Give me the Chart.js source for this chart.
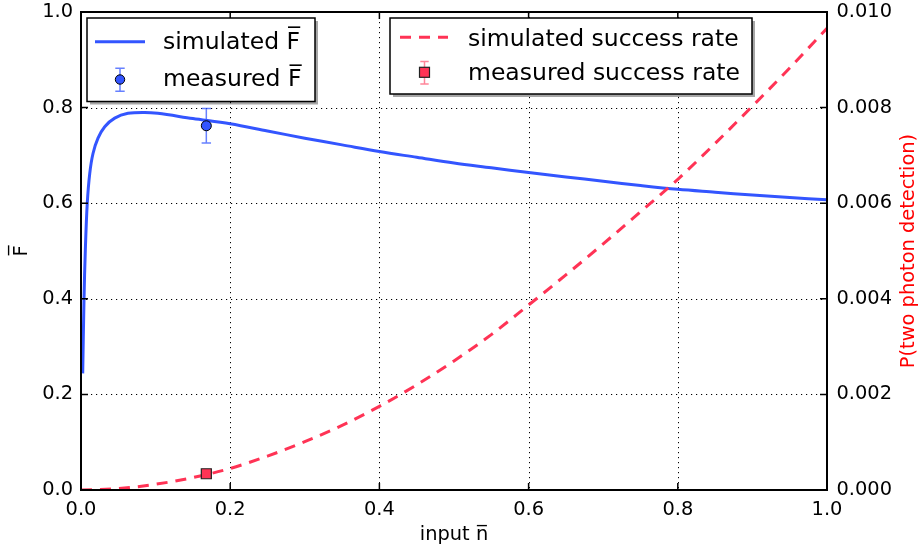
<!DOCTYPE html>
<html>
<head>
<meta charset="utf-8">
<script src="https://cdn.jsdelivr.net/npm/chart.js@4/dist/chart.umd.min.js"></script>
<style>
  html, body { margin: 0; padding: 0; background: #fff; }
  #wrap { width: 918px; height: 554px; }
</style>
</head>
<body>
<div id="wrap"><canvas id="chart" width="918" height="554"></canvas></div>
<script>
// Simulated mean fidelity vs. input mean photon number
const fidelityN = [0.0023, 0.004, 0.0058, 0.0084, 0.0117, 0.0161, 0.0228, 0.0318, 0.0452, 0.063,
                   0.0854, 0.103, 0.15, 0.2, 0.25, 0.3, 0.35, 0.4, 0.45, 0.5,
                   0.55, 0.6, 0.65, 0.7, 0.75, 0.8, 0.85, 0.9, 0.95, 1.0];
const fidelitySim = [0.244, 0.397, 0.502, 0.600, 0.662, 0.704, 0.736, 0.760, 0.778, 0.788,
                     0.790, 0.788, 0.777, 0.766, 0.751, 0.736, 0.722, 0.708, 0.696, 0.684,
                     0.674, 0.664, 0.655, 0.646, 0.637, 0.629, 0.623, 0.617, 0.612, 0.607];

// Simulated two-photon detection probability
const successN = [0, 0.05, 0.1, 0.15, 0.2, 0.25, 0.3, 0.35, 0.4, 0.45, 0.5,
                  0.55, 0.6, 0.65, 0.7, 0.75, 0.8, 0.85, 0.9, 0.95, 1.0];
const successSim = [0, 0.00003, 0.00012, 0.00026, 0.00045, 0.00071, 0.00101, 0.00135, 0.00175, 0.00220, 0.00270,
                    0.00325, 0.00387, 0.00450, 0.00515, 0.00582, 0.00650, 0.00725, 0.00803, 0.00883, 0.00966];

// Measurement
const measuredN = [0.168];
const measuredF = [0.762];
const measuredFErr = [0.036];
const measuredP = [0.00034];
const measuredPErr = [0.00002];

// Axis ticks
const xTicks = [0, 0.2, 0.4, 0.6, 0.8, 1.0];
const fTicks = [0, 0.2, 0.4, 0.6, 0.8, 1.0];
const pTicks = [0, 0.002, 0.004, 0.006, 0.008, 0.010];

const P_AXIS_TITLE = 'P(two photon detection)';

const BLUE = '#3355ff';
const RED = '#ff3355';
const TICK_FONT = 19.4;
const LEGEND_FONT = 23.5;
const FONT = "'DejaVu Sans', sans-serif";

Chart.defaults.font.family = FONT;
Chart.defaults.color = '#000';

function pairs(xs, ys) { return xs.map((x, i) => ({ x: x, y: ys[i] })); }

function straightLine(ctx, x1, y1, x2, y2) {
  ctx.beginPath();
  ctx.moveTo(x1, y1);
  ctx.lineTo(x2, y2);
  ctx.stroke();
}

function errorBar(ctx, x, yTop, yBot, half, color) {
  ctx.save();
  ctx.strokeStyle = color;
  ctx.lineWidth = 1.5;
  ctx.beginPath();
  ctx.moveTo(x, yTop); ctx.lineTo(x, yBot);
  ctx.moveTo(x - half, yTop); ctx.lineTo(x + half, yTop);
  ctx.moveTo(x - half, yBot); ctx.lineTo(x + half, yBot);
  ctx.stroke();
  ctx.restore();
}

function legendFrame(ctx, x, y, w, h) {
  ctx.save();
  ctx.fillStyle = 'rgba(0,0,0,0.35)';
  ctx.fillRect(x + 3, y + 3, w, h);
  ctx.fillStyle = '#fff';
  ctx.fillRect(x, y, w, h);
  ctx.strokeStyle = '#000';
  ctx.lineWidth = 1.5;
  ctx.strokeRect(x, y, w, h);
  ctx.restore();
}

// fixed plot box: scale sizes set explicitly, label overhang ignored
function fixWidth(w) {
  return s => { s.width = w; s.paddingTop = 0; s.paddingBottom = 0; };
}
function fixHeight(h) {
  return s => { s.height = h; s.paddingLeft = 0; s.paddingRight = 0; };
}

const decorations = {
  id: 'decorations',
  beforeDatasetsDraw(chart) {
    const { ctx, chartArea: a, scales } = chart;
    ctx.save();
    ctx.strokeStyle = '#000';
    ctx.lineWidth = 1;
    ctx.setLineDash([1.2, 3.8]);
    xTicks.slice(1, -1).forEach(v => {
      const px = Math.round(scales.x.getPixelForValue(v)) + 0.5;
      straightLine(ctx, px, a.top, px, a.bottom);
    });
    fTicks.slice(1, -1).forEach(v => {
      const py = Math.round(scales.y.getPixelForValue(v)) + 0.5;
      straightLine(ctx, a.left, py, a.right, py);
    });
    ctx.restore();
  },
  beforeDatasetDraw(chart, args) {
    const ds = chart.data.datasets[args.index];
    if (!ds.errors) return;
    const { ctx } = chart;
    const xs = chart.scales.x;
    const ys = chart.scales[ds.yAxisID];
    ds.data.forEach((p, i) => {
      const px = xs.getPixelForValue(p.x);
      errorBar(ctx, px, ys.getPixelForValue(p.y + ds.errors[i]),
               ys.getPixelForValue(p.y - ds.errors[i]), 4.7, ds.errorColor);
    });
  },
  afterDraw(chart) {
    const { ctx, chartArea: a, scales } = chart;
    ctx.save();
    // inward tick marks on all four sides
    ctx.strokeStyle = '#000';
    ctx.lineWidth = 1.5;
    ctx.beginPath();
    const len = 7;
    xTicks.forEach(v => {
      const px = scales.x.getPixelForValue(v);
      ctx.moveTo(px, a.bottom); ctx.lineTo(px, a.bottom - len);
      ctx.moveTo(px, a.top); ctx.lineTo(px, a.top + len);
    });
    fTicks.forEach(v => {
      const py = scales.y.getPixelForValue(v);
      ctx.moveTo(a.left, py); ctx.lineTo(a.left + len, py);
    });
    pTicks.forEach(v => {
      const py = scales.y2.getPixelForValue(v);
      ctx.moveTo(a.right, py); ctx.lineTo(a.right - len, py);
    });
    ctx.stroke();
    // axes frame
    ctx.lineWidth = 2;
    ctx.strokeRect(a.left, a.top, a.right - a.left, a.bottom - a.top);

    // right axis title, reading bottom to top
    ctx.save();
    ctx.translate(913.5, (a.top + a.bottom) / 2);
    ctx.rotate(-Math.PI / 2);
    ctx.font = TICK_FONT + 'px ' + FONT;
    ctx.textAlign = 'center';
    ctx.textBaseline = 'alphabetic';
    ctx.fillStyle = '#ff0000';
    ctx.fillText(P_AXIS_TITLE, 0, 0);
    ctx.restore();

    // legends
    ctx.font = LEGEND_FONT + 'px ' + FONT;
    ctx.textBaseline = 'alphabetic';
    ctx.fillStyle = '#000';

    legendFrame(ctx, 87, 18, 228, 83.5);
    ctx.strokeStyle = BLUE;
    ctx.lineWidth = 3;
    ctx.beginPath(); ctx.moveTo(95, 41.7); ctx.lineTo(145, 41.7); ctx.stroke();
    ctx.fillStyle = '#000';
    ctx.fillText('simulated F\u0305', 163, 48.5);
    errorBar(ctx, 120, 68.3, 91.3, 4.7, 'rgba(51,85,255,0.75)');
    ctx.beginPath(); ctx.arc(120, 79.5, 4.7, 0, Math.PI * 2);
    ctx.fillStyle = BLUE; ctx.fill();
    ctx.strokeStyle = '#000'; ctx.lineWidth = 1; ctx.stroke();
    ctx.fillStyle = '#000';
    ctx.fillText('measured F\u0305', 163, 86);

    legendFrame(ctx, 390, 18, 362, 76);
    ctx.strokeStyle = RED;
    ctx.lineWidth = 3;
    ctx.setLineDash([11, 8]);
    ctx.beginPath(); ctx.moveTo(400, 37.3); ctx.lineTo(448, 37.3); ctx.stroke();
    ctx.setLineDash([]);
    ctx.fillStyle = '#000';
    ctx.fillText('simulated success rate', 468, 45.7);
    errorBar(ctx, 424.5, 61.5, 84, 4.2, 'rgba(255,51,85,0.6)');
    ctx.fillStyle = RED;
    ctx.fillRect(419.5, 67.3, 10, 10);
    ctx.strokeStyle = '#222'; ctx.lineWidth = 1.2;
    ctx.strokeRect(419.5, 67.3, 10, 10);
    ctx.fillStyle = '#000';
    ctx.fillText('measured success rate', 468, 80);
    ctx.restore();
  }
};

new Chart(document.getElementById('chart'), {
  type: 'scatter',
  data: {
    datasets: [
      {
        label: 'measured F',
        data: pairs(measuredN, measuredF),
        errors: measuredFErr,
        errorColor: 'rgba(51,85,255,0.75)',
        yAxisID: 'y',
        showLine: false,
        pointStyle: 'circle',
        pointRadius: 5,
        pointBackgroundColor: BLUE,
        pointBorderColor: '#000',
        pointBorderWidth: 1
      },
      {
        label: 'measured success rate',
        data: pairs(measuredN, measuredP),
        errors: measuredPErr,
        errorColor: 'rgba(255,51,85,0.6)',
        yAxisID: 'y2',
        showLine: false,
        pointStyle: 'rect',
        pointRadius: 7.1,
        pointBackgroundColor: RED,
        pointBorderColor: '#222',
        pointBorderWidth: 1.2
      },
      {
        label: 'simulated success rate',
        data: pairs(successN, successSim),
        yAxisID: 'y2',
        showLine: true,
        borderColor: RED,
        borderWidth: 3,
        borderDash: [11, 8],
        pointRadius: 0,
        cubicInterpolationMode: 'monotone'
      },
      {
        label: 'simulated F',
        data: pairs(fidelityN, fidelitySim),
        yAxisID: 'y',
        showLine: true,
        borderColor: BLUE,
        borderWidth: 3,
        pointRadius: 0,
        tension: 0.35
      }
    ]
  },
  options: {
    responsive: false,
    animation: false,
    devicePixelRatio: 1,
    layout: { padding: { top: 12, left: 0, right: 0, bottom: 0 } },
    plugins: { legend: { display: false }, tooltip: { enabled: false } },
    scales: {
      x: {
        type: 'linear', min: 0, max: 1,
        afterFit: fixHeight(64),
        afterBuildTicks: s => { s.ticks = xTicks.map(v => ({ value: v })); },
        grid: { display: false, drawTicks: false },
        border: { display: false },
        ticks: { font: { size: TICK_FONT }, padding: 8, autoSkip: false, maxRotation: 0,
                 callback: v => v.toFixed(1) },
        title: { display: true, text: 'input n\u0305', font: { size: TICK_FONT },
                 padding: { top: 0, bottom: 7 } }
      },
      y: {
        type: 'linear', position: 'left', min: 0, max: 1,
        afterFit: fixWidth(81),
        afterBuildTicks: s => { s.ticks = fTicks.map(v => ({ value: v })); },
        grid: { display: false, drawTicks: false },
        border: { display: false },
        ticks: { font: { size: TICK_FONT }, padding: 8, autoSkip: false,
                 callback: v => v.toFixed(1) },
        title: { display: true, text: 'F\u0305', font: { size: TICK_FONT },
                 padding: { top: 10, bottom: 0 } }
      },
      y2: {
        type: 'linear', position: 'right', min: 0, max: 0.01,
        afterFit: fixWidth(91),
        afterBuildTicks: s => { s.ticks = pTicks.map(v => ({ value: v })); },
        grid: { display: false, drawTicks: false },
        border: { display: false },
        ticks: { font: { size: TICK_FONT }, padding: 9.5, autoSkip: false,
                 callback: v => v.toFixed(3) },
        title: { display: false }
      }
    }
  },
  plugins: [decorations]
});
</script>
</body>
</html>
